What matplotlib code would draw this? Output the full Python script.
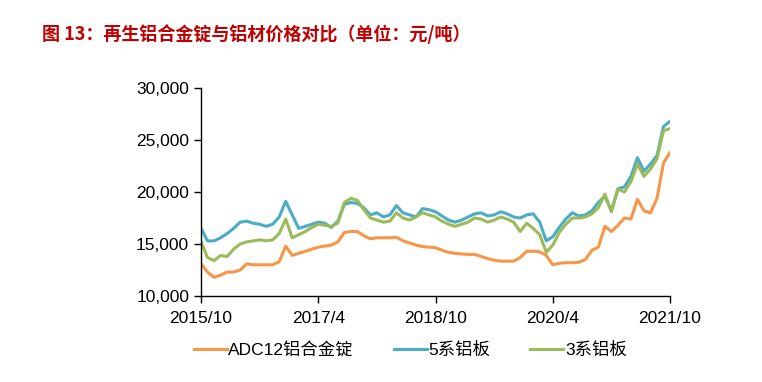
import numpy as np
import matplotlib
matplotlib.use('Agg')
import matplotlib.pyplot as plt
from matplotlib.ticker import FuncFormatter

plt.rcParams['font.family'] = ['Liberation Sans', 'Noto Sans CJK SC', 'DejaVu Sans']

# 月次データ（2015/10〜2021/10）
tick_labels = ['2015/10', '2017/4', '2018/10', '2020/4', '2021/10']
series_names = ['ADC12铝合金锭', '5系铝板', '3系铝板']

adc12 = [13100, 12300, 11800, 12000, 12300, 12300, 12500, 13100, 13000, 13000,
         13000, 13000, 13300, 14800, 13900, 14100, 14300, 14500, 14700, 14800,
         14900, 15200, 16100, 16200, 16200, 15800, 15500, 15600, 15600, 15600,
         15650, 15300, 15100, 14900, 14750, 14700, 14650, 14400, 14200, 14100,
         14050, 14000, 14000, 13800, 13600, 13450, 13350, 13350, 13350, 13700,
         14300, 14300, 14250, 13900, 13000, 13150, 13200, 13200, 13250, 13500,
         14400, 14700, 16700, 16200, 16800, 17500, 17400, 19300, 18200, 18000,
         19400, 22800, 23800]

al5 = [16500, 15300, 15300, 15600, 16000, 16500, 17100, 17200, 17000, 16900,
       16700, 16900, 17600, 19100, 17800, 16500, 16700, 16900, 17100, 17000,
       16600, 17200, 18800, 19000, 18900, 18500, 17800, 18000, 17600, 17800,
       18700, 18000, 17800, 17600, 18400, 18300, 18100, 17700, 17300, 17100,
       17300, 17600, 17900, 18000, 17700, 17800, 18100, 17900, 17600, 17500,
       17800, 17900, 17100, 15300, 15700, 16600, 17400, 18000, 17700, 17800,
       18200, 19000, 19600, 18200, 20300, 20500, 21500, 23300, 22000, 22700,
       23500, 26300, 26800]

al3 = [15200, 13700, 13400, 13900, 13800, 14500, 15000, 15200, 15300, 15400,
       15300, 15400, 16000, 17400, 15600, 15900, 16200, 16600, 16900, 16800,
       16700, 17000, 19000, 19400, 19200, 18300, 17500, 17300, 17100, 17200,
       18000, 17500, 17300, 17600, 18000, 17800, 17600, 17200, 16900, 16700,
       16900, 17100, 17500, 17400, 17100, 17300, 17600, 17400, 17100, 16200,
       17000, 16500, 15900, 14200, 14900, 16100, 16900, 17500, 17500, 17600,
       17900, 18500, 19800, 18100, 20300, 20000, 21000, 22700, 21500, 22200,
       23200, 25900, 26100]

colors = ['#F79646', '#4BACC6', '#9BBB59']
months = np.arange(len(adc12))

fig = plt.figure(figsize=(7.62, 3.82), dpi=100)
ax = fig.add_axes([0.2638, 0.2251, 0.6155, 0.5445])

for vals, name, c in zip([adc12, al5, al3], series_names, colors):
    ax.plot(months, vals, color=c, lw=2.2, label=name)

ax.set_xlim(0, 72)
ax.set_ylim(10000, 30000)
ax.set_xticks([0, 18, 36, 54, 72])
ax.set_xticklabels(tick_labels)
ax.set_yticks(range(10000, 30001, 5000))
ax.yaxis.set_major_formatter(FuncFormatter(lambda v, p: f'{int(v):,}'))
ax.tick_params(labelsize=12.5, length=5, width=1, direction='out', color='black')
ax.tick_params(axis='x', pad=6)
for s in ['top', 'right']:
    ax.spines[s].set_visible(False)
for s in ['left', 'bottom']:
    ax.spines[s].set_linewidth(1)

ax.legend(loc='upper center', bbox_to_anchor=(0.446, -0.147), ncol=3, frameon=False,
          handlelength=1.9, handletextpad=0.1, columnspacing=2.3,
          prop={'family': ['Liberation Sans', 'Noto Sans CJK SC'], 'size': 12.5})

fig.text(0.055, 0.91, '图 13：再生铝合金锭与铝材价格对比（单位：元/吨）',
         color='#C00000', fontsize=13, fontweight='bold',
         family=['Noto Sans CJK SC', 'DejaVu Sans'], va='center')

plt.savefig('out.png', dpi=100)
